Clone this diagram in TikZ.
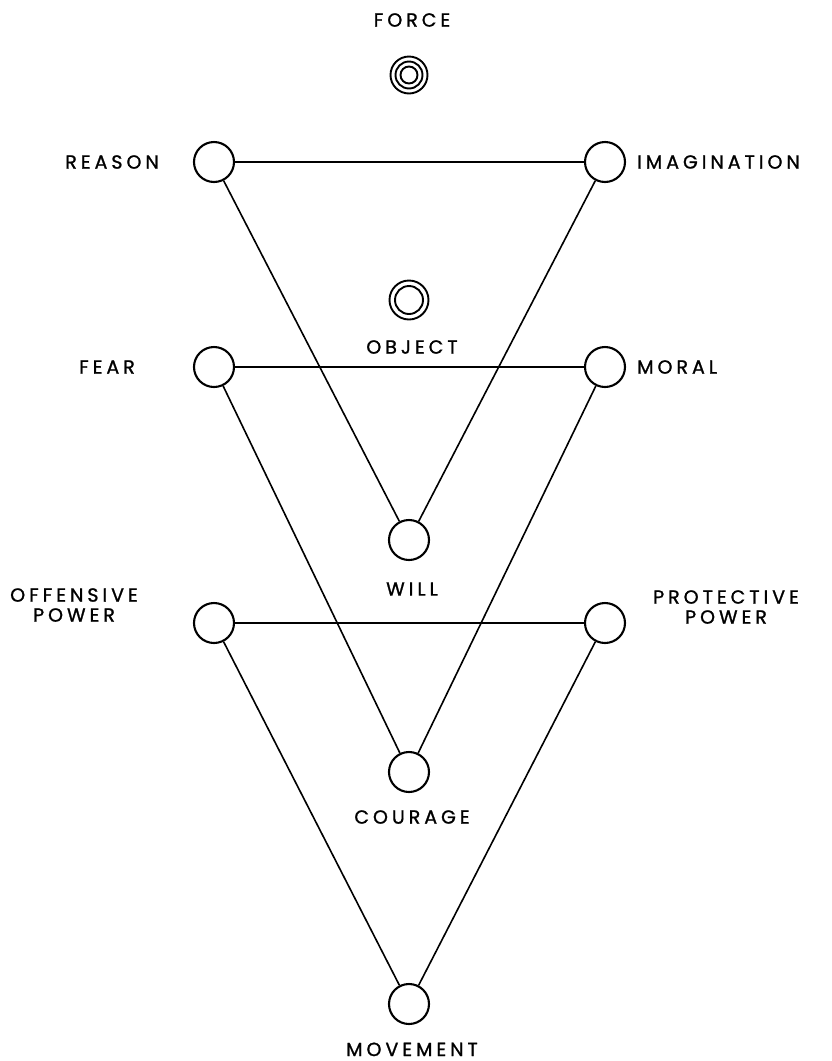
\documentclass[tikz,border=0pt]{standalone}
\usepackage{fontspec}
\setmainfont{Poppins}[LetterSpace=21, FakeBold=1.2]
\begin{document}
\begin{tikzpicture}[x=1pt,y=-1pt,
  pt/.style={circle,draw,line width=2.1pt,minimum size=40pt,inner sep=0pt},
  ring/.style={circle,draw,line width=1.9pt,inner sep=0pt},
  lab/.style={font=\fontsize{19}{20}\selectfont,align=center,inner sep=0pt},
  edge/.style={line width=1.6pt}]
\useasboundingbox (0,0) rectangle (832,1061);
% Force symbol
\node[lab] (forcel) at (412,20) {FORCE};
\node[ring,minimum size=37pt] (force) at (409,75) {};
\node[ring,minimum size=27pt] (force2) at (409,75) {};
\node[ring,minimum size=17pt] (force3) at (409,75) {};
% Object symbol
\node[ring,minimum size=39pt] (object) at (409,300) {};
\node[ring,minimum size=28pt] (object2) at (409,300) {};
\node[lab] (objectl) at (412,347) {OBJECT};
% circles
\node[pt] (reason) at (214,162) {};
\node[pt] (imag) at (605,162) {};
\node[pt] (fear) at (214,367) {};
\node[pt] (moral) at (605,367) {};
\node[pt] (will) at (409,540) {};
\node[pt] (off) at (214,623) {};
\node[pt] (prot) at (605,623) {};
\node[pt] (courage) at (409,772) {};
\node[pt] (move) at (409,1004) {};
% labels
\node[lab,anchor=east] (reasonl) at (159,162) {REASON};
\node[lab,anchor=west] (imagl) at (637,162) {IMAGINATION};
\node[lab,anchor=east] (fearl) at (135,367) {FEAR};
\node[lab,anchor=west] (morall) at (637,367) {MORAL};
\node[lab] (willl) at (412,589) {WILL};
\node[lab] (offl) at (74,605) {OFFENSIVE\\POWER};
\node[lab] (protl) at (726,607) {PROTECTIVE\\POWER};
\node[lab] (couragel) at (412,817) {COURAGE};
\node[lab,anchor=base] (movel) at (412,1056) {MOVEMENT};
% connectors
\draw[edge] (reason) -- (imag);
\draw[edge] (reason) -- (will);
\draw[edge] (imag) -- (will);
\draw[edge] (fear) -- (moral);
\draw[edge] (fear) -- (courage);
\draw[edge] (moral) -- (courage);
\draw[edge] (off) -- (prot);
\draw[edge] (off) -- (move);
\draw[edge] (prot) -- (move);
\end{tikzpicture}
\end{document}
